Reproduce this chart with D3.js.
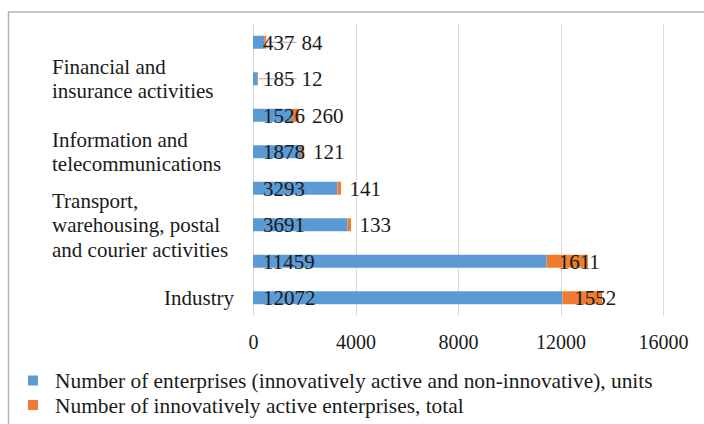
<!DOCTYPE html>
<html>
<head>
<meta charset="utf-8">
<script src="https://cdn.jsdelivr.net/npm/d3@7/dist/d3.min.js"></script>
<style>
  html, body { margin: 0; padding: 0; background: #fff; }
  svg { display: block; }
  svg text { font-family: "Liberation Serif", "Times New Roman", serif; }
</style>
</head>
<body>
<svg id="chart"></svg>
<script>
(function (d3) {

    /***** Data (bottom to top, as in the source sheet) *****/
    var categories = [
        "Industry",
        "Construction",
        "Transport, warehousing, postal and courier activities",
        "Wholesale and retail trade",
        "Information and telecommunications",
        "Professional, scientific and technical activities",
        "Financial and insurance activities",
        "Other activities"
    ];
    var totalEnterprises = [12072, 11459, 3691, 3293, 1878, 1526, 185, 437];
    var innovativeEnterprises = [1552, 1611, 133, 141, 121, 260, 12, 84];
    var seriesNames = [
        "Number of enterprises (innovatively active and non-innovative), units",
        "Number of innovatively active enterprises, total"
    ];
    var xTicks = [0, 4000, 8000, 12000, 16000];

    /***** Configuration *****/
    var width = 704, height = 424;
    var margin = { top: 24, right: 41, bottom: 108, left: 253 };
    var plotWidth = 663 - margin.left;
    var plotHeight = 316 - margin.top;
    var colors = ["#5b9bd5", "#ed7d31"];
    var fontSize = 21;
    var legendFontSize = 21.4;
    var tickFontSize = 20;
    var textColor = "#1a1a1a";
    var serif = "Liberation Serif";

    var svg = d3.select("#chart").attr("width", width).attr("height", height)
                .attr("font-family", serif);

    // outer chart border
    svg.append("rect")
       .attr("x", 8.5).attr("y", 12)
       .attr("width", width + 10).attr("height", height + 10)
       .attr("fill", "none")
       .attr("stroke", "#b4b4b4")
       .attr("stroke-width", 1.5);

    var g = svg.append("g")
               .attr("transform", "translate(" + margin.left + "," + margin.top + ")");

    /***** Scales *****/
    var x = d3.scaleLinear().domain([0, 16000]).range([0, plotWidth]);
    var y = d3.scaleBand()
              .domain(d3.range(categories.length).reverse())
              .range([0, plotHeight])
              .paddingInner(0.644)
              .paddingOuter(0.322);

    /***** Gridlines *****/
    g.selectAll(".grid")
     .data(xTicks)
     .enter().append("line")
     .attr("x1", function (d) { return Math.round(x(d)) + 0.5; })
     .attr("x2", function (d) { return Math.round(x(d)) + 0.5; })
     .attr("y1", 0)
     .attr("y2", plotHeight)
     .attr("stroke", "#d9d9d9")
     .attr("stroke-width", 1);

    /***** X axis *****/
    var xAxis = d3.axisBottom(x).tickValues(xTicks).tickSize(0).tickPadding(0).tickFormat(d3.format("d"));
    var xAxisG = g.append("g")
                  .attr("transform", "translate(0," + (342 - margin.top) + ")")
                  .call(xAxis);
    xAxisG.attr("font-family", serif);
    xAxisG.select(".domain").remove();
    xAxisG.selectAll("text")
          .attr("dy", "0.35em")
          .attr("y", 0)
          .attr("font-size", tickFontSize)
          .attr("font-family", serif)
          .attr("fill", textColor);

    /***** Bars *****/
    var rows = categories.map(function (c, i) {
        return { i: i, name: c, a: totalEnterprises[i], b: innovativeEnterprises[i] };
    });

    var barH = y.bandwidth();
    var rowG = g.selectAll(".row").data(rows).enter().append("g")
                .attr("transform", function (d) { return "translate(0," + y(d.i) + ")"; });

    rowG.append("rect")
        .attr("x", 0)
        .attr("y", 0)
        .attr("width", function (d) { return x(d.a); })
        .attr("height", barH)
        .attr("fill", colors[0]);

    rowG.append("rect")
        .attr("x", function (d) { return x(d.a); })
        .attr("y", 0)
        .attr("width", function (d) { return x(d.b); })
        .attr("height", barH)
        .attr("fill", colors[1]);

    /***** Data labels *****/
    rowG.each(function (d) {
        var row = d3.select(this);
        var cy = barH / 2;
        var la = row.append("text")
                    .attr("x", 10)
                    .attr("y", cy)
                    .attr("dy", "0.35em")
                    .attr("font-size", fontSize)
                    .attr("font-family", serif)
                    .attr("fill", textColor)
                    .text(d.a);
        var aEnd = 10 + la.node().getComputedTextLength();
        var segStart = x(d.a), segEnd = x(d.a + d.b);
        var bx = Math.max(segStart + 12, aEnd + 7);
        // tiny segments: label pushed away, joined by a leader line
        if (bx - segEnd > 15) {
            row.insert("line", "text")
               .attr("x1", segEnd + 1)
               .attr("x2", bx - 5)
               .attr("y1", cy)
               .attr("y2", cy)
               .attr("stroke", "#a6a6a6")
               .attr("stroke-width", 1);
        }
        row.append("text")
           .attr("x", bx)
           .attr("y", cy)
           .attr("dy", "0.35em")
           .attr("font-size", fontSize)
           .attr("font-family", serif)
           .attr("fill", textColor)
           .text(d.b);
    });

    /***** Category labels (every second one, as in the source) *****/
    var lineH = 24.5;
    var wrapWidth = 190;
    var measure = svg.append("text").attr("font-size", fontSize).attr("font-family", serif)
                     .attr("visibility", "hidden");
    function textWidth(s) { measure.text(s); return measure.node().getComputedTextLength(); }
    function wrap(s) {
        var words = s.split(" "), lines = [], cur = "";
        words.forEach(function (w) {
            var t = cur ? cur + " " + w : w;
            if (cur && textWidth(t) > wrapWidth) { lines.push(cur); cur = w; }
            else { cur = t; }
        });
        lines.push(cur);
        return lines;
    }

    rows.filter(function (d) { return d.i % 2 === 0; }).forEach(function (d) {
        var lines = wrap(d.name);
        var cy = margin.top + y(d.i) + barH / 2;
        var multi = lines.length > 1;
        var t = svg.append("text")
                   .attr("font-size", fontSize)
                   .attr("font-family", serif)
                   .attr("fill", textColor)
                   .attr("text-anchor", multi ? "start" : "end");
        lines.forEach(function (ln, k) {
            t.append("tspan")
             .attr("x", multi ? 52 : 234)
             .attr("y", cy + (k - (lines.length - 1) / 2) * lineH)
             .attr("dy", "0.35em")
             .text(ln);
        });
    });
    measure.remove();

    /***** Legend *****/
    var legend = svg.selectAll(".legend").data(seriesNames).enter().append("g")
                    .attr("transform", function (d, i) { return "translate(28," + (380.5 + i * 24.5) + ")"; });
    legend.append("rect")
          .attr("x", 0).attr("y", -5)
          .attr("width", 10).attr("height", 10)
          .attr("fill", function (d, i) { return colors[i]; });
    legend.append("text")
          .attr("x", 27)
          .attr("y", 0)
          .attr("dy", "0.35em")
          .attr("font-size", legendFontSize)
          .attr("font-family", serif)
          .attr("fill", textColor)
          .text(function (d) { return d; });

})(d3);
</script>
</body>
</html>
